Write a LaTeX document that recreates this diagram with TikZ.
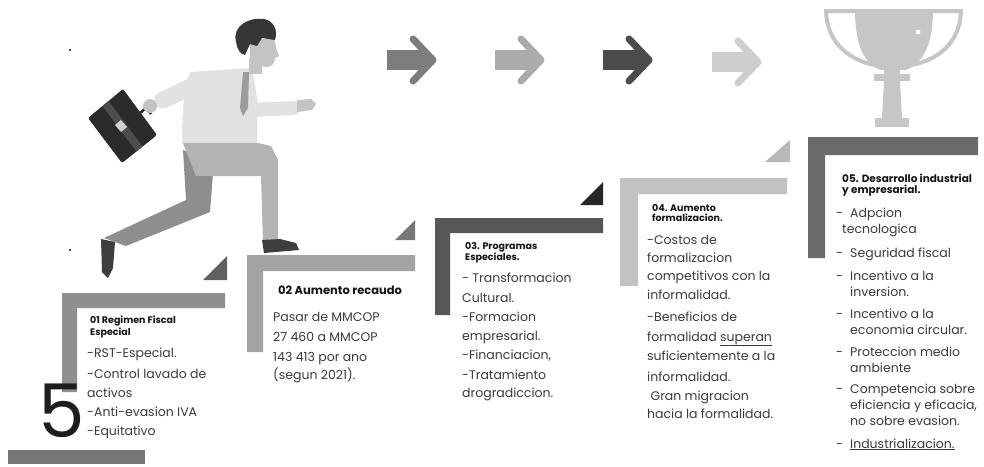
\documentclass[tikz,border=0pt]{standalone}
\usepackage{fontspec}
\setmainfont{Poppins}
\definecolor{bodyc}{HTML}{3A3A3A}
\definecolor{ttlc}{HTML}{141414}
\definecolor{barA}{HTML}{8F8F8F}
\definecolor{barB}{HTML}{A3A3A3}
\definecolor{barC}{HTML}{575757}
\definecolor{barD}{HTML}{C2C2C2}
\definecolor{barE}{HTML}{6A6A6A}
\definecolor{baseC}{HTML}{767676}
\definecolor{triA}{HTML}{606060}
\definecolor{triB}{HTML}{777777}
\definecolor{triC}{HTML}{262626}
\definecolor{triD}{HTML}{B8B8B8}
\definecolor{arrA}{HTML}{7D7D7D}
\definecolor{arrB}{HTML}{ABABAB}
\definecolor{arrC}{HTML}{4B4B4B}
\definecolor{arrD}{HTML}{CECECE}
\definecolor{hair}{HTML}{363636}
\definecolor{skin}{HTML}{C4C4C4}
\definecolor{shirt}{HTML}{E2E2E2}
\definecolor{tie}{HTML}{9C9C9C}
\definecolor{pantsF}{HTML}{B3B3B3}
\definecolor{pantsB}{HTML}{8E8E8E}
\definecolor{shoe}{HTML}{3E3E3E}
\definecolor{caseC}{HTML}{2B2B2B}
\definecolor{caseBand}{HTML}{4D4D4D}
\definecolor{clasp}{HTML}{D0D0D0}
\definecolor{troph}{HTML}{C6C6C6}
\definecolor{numc}{HTML}{1E1E1E}
\newcommand\stepdash{\makebox[14pt][l]{-}}
\begin{document}
\begin{tikzpicture}[x=1pt,y=-1pt,
  body/.style={anchor=base west,inner sep=0pt,text=bodyc,font=\fontsize{12.5}{15}\selectfont},
  ttl/.style={anchor=base west,inner sep=0pt,text=ttlc,font=\fontsize{9.5}{11}\selectfont\bfseries},
  bigttl/.style={ttl,font=\fontsize{11.5}{13}\selectfont\bfseries},
  midttl/.style={ttl,font=\fontsize{10.5}{12}\selectfont\bfseries},
  fwdarrow/.pic={
    \fill (0,-10) rectangle (34,10);
    \fill (30,-10) -- (46,0) -- (30,10) -- cycle;
    \draw[line width=7pt,line cap=round,line join=round] (26,-21) -- (46,0) -- (26,21);
  }]
\useasboundingbox (0,0) rectangle (984,466);
\fill[white] (0,0) rectangle (984,466);

% ---------- stair brackets ----------
\fill[barA] (62,293) -- (225,293) -- (225,308) -- (77,308) -- (77,392) -- (62,392) -- cycle;
\fill[barB] (247,255) -- (415,255) -- (415,271) -- (263,271) -- (263,352) -- (247,352) -- cycle;
\fill[barC] (435,218) -- (603,218) -- (603,233) -- (450,233) -- (450,315) -- (435,315) -- cycle;
\fill[barD] (620,178) -- (787,178) -- (787,194) -- (638,194) -- (638,286) -- (620,286) -- cycle;
\fill[barE] (808,137) -- (978,137) -- (978,155) -- (825,155) -- (825,258) -- (808,258) -- cycle;
\fill[baseC] (8,450) rectangle (145,464);

% ---------- corner wedges ----------
\fill[triA] (203,280) -- (227,280) -- (227,256) -- cycle;
\fill[triB] (395,240) -- (415,240) -- (415,220) -- cycle;
\fill[triC] (580,205) -- (603,205) -- (603,182) -- cycle;
\fill[triD] (765,162) -- (790,162) -- (790,140) -- cycle;

% ---------- arrows ----------
\pic[color=arrA] (arr1) at (387,60) {fwdarrow};
\pic[color=arrB] (arr2) at (495,60) {fwdarrow};
\pic[color=arrC] (arr3) at (603,60) {fwdarrow};
\pic[color=arrD] (arr4) at (712,62) {fwdarrow};

% ---------- trophy ----------
\draw[troph,line width=4pt] (856,11) -- (826,11) .. controls (827,45) and (852,62) .. (880,66);
\draw[troph,line width=4pt] (932,11) -- (961,11) .. controls (960,45) and (935,62) .. (906,66);
\fill[troph] (855,9) -- (933,9) .. controls (933,42) and (925,62) .. (906,70) -- (880,70) .. controls (862,62) and (855,42) .. (855,9) -- cycle;
\fill[troph] (884,69) rectangle (900,75);
\fill[troph] (874,74) rectangle (910,81);
\fill[troph] (884,81) -- (900,81) -- (902,118) -- (882,118) -- cycle;
\fill[troph] (875,118) rectangle (909,127);
\fill[white] (918,32) circle[radius=2.5pt];

% ---------- running man ----------
\draw[shirt,line width=17pt,line cap=round] (205,80) -- (163,100);
\fill[pantsB] (183,150) -- (214,160) -- (210,212) -- (126,246) -- (104,238) -- (186,200) -- cycle;
\fill[shoe] (101,239) -- (115,242) -- (113,268) -- (108,278) -- (102,272) -- cycle;
\fill[shirt] (190,72) -- (250,68) .. controls (256,80) and (258,100) .. (257,143) -- (182,143) .. controls (182,110) and (184,88) .. (190,72) -- cycle;
\fill[pantsF] (183,143) -- (258,143) -- (271,146) -- (278,160) -- (278,242) -- (263,242) -- (261,176) -- (196,176) -- cycle;
\fill[shoe] (262,240) -- (280,239) -- (296,243) -- (299,250) -- (264,253) -- cycle;
\draw[shirt,line width=14pt,line cap=round,line join=round] (246,76) -- (252,110) -- (293,108);
\fill[skin] (297,100) -- (311,99) -- (316,104) -- (312,110) -- (297,112) -- cycle;
\fill[tie] (243,72) -- (249,72) -- (248,108) -- (243,116) -- (240,108) -- cycle;
\fill[skin] (249,58) rectangle (262,74);
\fill[skin] (250,40) -- (274,38) .. controls (276,45) and (276,50) .. (279,56) -- (275,58) .. controls (275,64) and (271,67) .. (266,67) -- (258,66) -- (250,60) -- cycle;
\fill[hair] (236,42) .. controls (232,25) and (250,17) .. (264,19) .. controls (274,21) and (278,30) .. (275,40) -- (262,38) -- (257,46) -- (250,44) -- (245,55) .. controls (240,54) and (237,49) .. (236,42) -- cycle;
% briefcase
\fill[caseC,rounded corners=2pt] (88,118) -- (123,89) -- (157,135) -- (122,163) -- cycle;
\fill[caseBand] (102.5,106.1) -- (108.5,100.9) -- (142.5,146.4) -- (136.5,151.6) -- cycle;
\fill[clasp] (115,125) -- (121,120) -- (127,127) -- (121,132) -- cycle;
\draw[caseC,line width=2.5pt] (140,113) -- (146,108) -- (151,114);
\fill[skin] (150,106) circle[radius=7pt];
% stray marks
\fill[black] (70,50) circle[radius=1.1pt];
\fill[black] (70,250) circle[radius=1.1pt];

% ---------- big numeral ----------
\node[inner sep=0pt,anchor=base,text=numc,font=\fontsize{74}{74}\selectfont] (num) at (62,437) {5};

% ---------- step 1 ----------
\node[ttl] (t1a) at (90,323) {01 Regimen Fiscal};
\node[ttl] (t1b) at (90,335) {Especial};
\foreach \yy/\lbl [count=\i] in {357/-RST-Especial., 378/-Control lavado de, 397/activos, 416/-Anti-evasion IVA, 435/-Equitativo}
  \node[body] (s1l\i) at (87,\yy) {\lbl};

% ---------- step 2 ----------
\node[bigttl] (t2a) at (278,294) {02 Aumento recaudo};
\foreach \yy/\lbl [count=\i] in {321/Pasar de MMCOP, 341/27 460 a MMCOP, 361/143 413 por ano, 379/(segun 2021).}
  \node[body] (s2l\i) at (273,\yy) {\lbl};

% ---------- step 3 ----------
\node[ttl] (t3a) at (465,249) {03. Programas};
\node[ttl] (t3b) at (465,260) {Especiales.};
\foreach \yy/\lbl [count=\i] in {282/- Transformacion, 302/Cultural., 321/-Formacion, 340/empresarial., 359/{-Financiacion,}, 379/-Tratamiento, 397/drogradiccion.}
  \node[body] (s3l\i) at (462,\yy) {\lbl};

% ---------- step 4 ----------
\node[ttl] (t4a) at (652,211) {04. Aumento};
\node[ttl] (t4b) at (652,221) {formalizacion.};
\foreach \yy/\lbl [count=\i] in {244/-Costos de, 262/formalizacion, 280/competitivos con la, 299/informalidad., 321/-Beneficios de, 341/formalidad \underline{superan}, 360/suficientemente a la, 381/informalidad., 400/\ Gran migracion, 418/hacia la formalidad.}
  \node[body] (s4l\i) at (647,\yy) {\lbl};

% ---------- step 5 ----------
\node[midttl] (t5a) at (842,182) {05. Desarrollo industrial};
\node[midttl] (t5b) at (842,193) {y empresarial.};
\node[body] (s5a) at (836,217) {\stepdash Adpcion};
\node[body] (s5b) at (842,233) {tecnologica};
\node[body] (s5c) at (836,257) {\stepdash Seguridad fiscal};
\node[body] (s5d) at (836,280) {\stepdash Incentivo a la};
\node[body] (s5e) at (850,296) {inversion.};
\node[body] (s5f) at (836,318) {\stepdash Incentivo a la};
\node[body] (s5g) at (850,334) {economia circular.};
\node[body] (s5h) at (836,356) {\stepdash Proteccion medio};
\node[body] (s5i) at (850,372) {ambiente};
\node[body] (s5j) at (836,393) {\stepdash Competencia sobre};
\node[body] (s5k) at (850,409) {eficiencia y eficacia,};
\node[body] (s5l) at (850,425) {no sobre evasion.};
\node[body] (s5m) at (836,448) {\stepdash\underline{Industrializacion.}};
\end{tikzpicture}
\end{document}
